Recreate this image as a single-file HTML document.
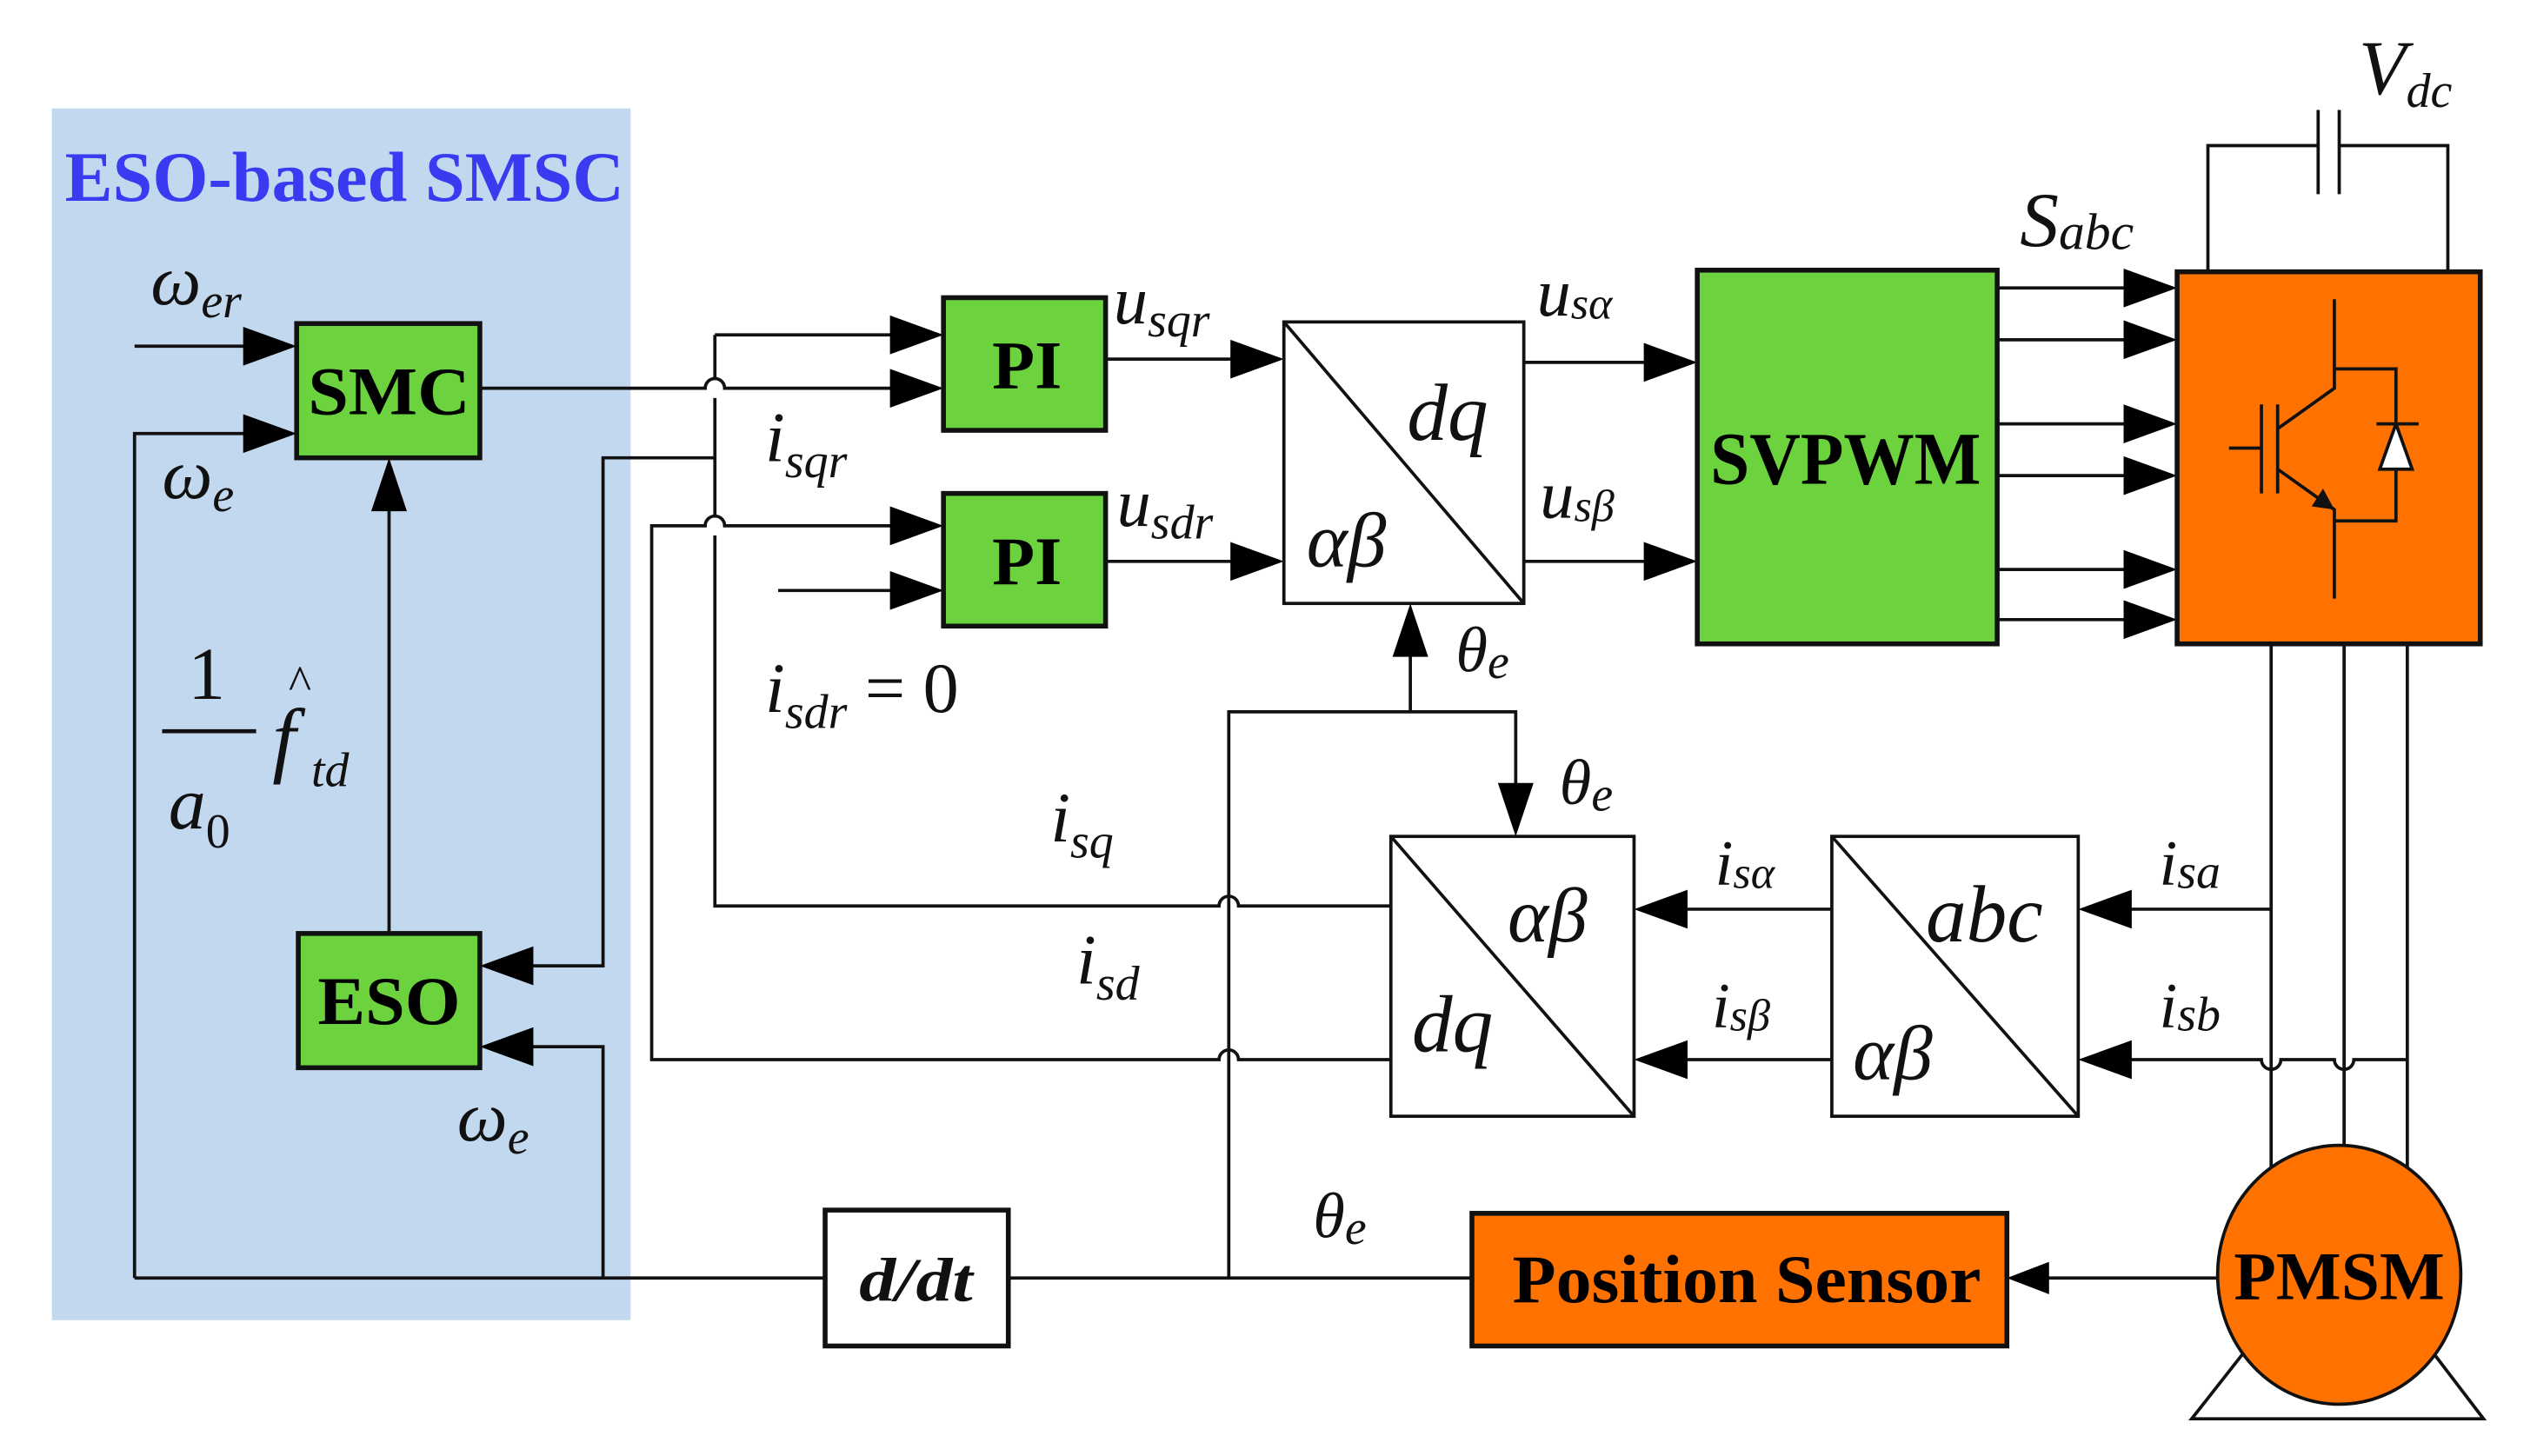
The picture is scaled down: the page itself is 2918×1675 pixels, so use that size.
<!DOCTYPE html>
<html><head><meta charset="utf-8"><style>
html,body{margin:0;padding:0;background:#fff;}
svg{display:block;}
.m{font-family:"Liberation Serif",serif;font-style:italic;fill:#111;}
.b{font-family:"Liberation Serif",serif;font-weight:bold;fill:#000;}
</style></head><body>
<svg width="2918" height="1675" viewBox="0 0 1565 900" preserveAspectRatio="none" xmlns="http://www.w3.org/2000/svg">
<rect x="32" y="67" width="357" height="749" fill="#c2d8ef"/>
<text x="40" y="124" class="b" font-size="44" style="fill:#3a3af0" textLength="345" lengthAdjust="spacingAndGlyphs">ESO-based SMSC</text>

<g stroke="#111" stroke-width="2" fill="none">
<line x1="83" y1="214" x2="160" y2="214"/>
<polyline points="83,790 83,268 160,268"/>
<line x1="240" y1="577" x2="240" y2="310"/>
<path d="M296,240 H435 a6,6 0 0 1 12,0 H556"/>
<path d="M441,207 V234 M441,246 V319 M441,331 V560 H752 a6,6 0 0 1 12,0 H858"/>
<line x1="441" y1="207" x2="556" y2="207"/>
<polyline points="441,283 372,283 372,597 323,597"/>
<path d="M556,325 H447 a6,6 0 0 0 -12,0 H402 V655 H752 a6,6 0 0 1 12,0 H858"/>
<line x1="480" y1="365" x2="556" y2="365"/>
<polyline points="372,790 372,647 323,647"/>
<line x1="83" y1="790" x2="509" y2="790"/>
<line x1="622" y1="790" x2="908" y2="790"/>
<line x1="1368" y1="790" x2="1262" y2="790"/>
<polyline points="758,790 758,440 935,440 935,490"/>
<line x1="870" y1="440" x2="870" y2="400"/>
<line x1="682" y1="222" x2="766" y2="222"/>
<line x1="682" y1="347" x2="766" y2="347"/>
<line x1="940" y1="224" x2="1020" y2="224"/>
<line x1="940" y1="347" x2="1020" y2="347"/>
<line x1="1232" y1="178" x2="1318" y2="178"/>
<line x1="1232" y1="210" x2="1318" y2="210"/>
<line x1="1232" y1="262" x2="1318" y2="262"/>
<line x1="1232" y1="294" x2="1318" y2="294"/>
<line x1="1232" y1="352" x2="1318" y2="352"/>
<line x1="1232" y1="383" x2="1318" y2="383"/>
<polyline points="1362,168 1362,90 1430,90"/>
<polyline points="1443,90 1510,90 1510,168"/>
<line x1="1430" y1="68" x2="1430" y2="120"/>
<line x1="1443" y1="68" x2="1443" y2="120"/>
<line x1="1401" y1="398" x2="1401" y2="730"/>
<line x1="1446" y1="398" x2="1446" y2="713"/>
<line x1="1485" y1="398" x2="1485" y2="730"/>
<line x1="1401" y1="562" x2="1308" y2="562"/>
<path d="M1485,655 H1452 a6,6 0 0 1 -12,0 H1407 a6,6 0 0 1 -12,0 H1308"/>
<line x1="1130" y1="562" x2="1034" y2="562"/>
<line x1="1130" y1="655" x2="1034" y2="655"/>
</g>
<g fill="#000">
<polygon points="183,214 150,202 150,226"/>
<polygon points="183,268 150,256 150,280"/>
<polygon points="240,283 229,316 251,316"/>
<polygon points="582,207 549,195 549,219"/>
<polygon points="582,240 549,228 549,252"/>
<polygon points="582,325 549,313 549,337"/>
<polygon points="582,365 549,353 549,377"/>
<polygon points="296,597 329,585 329,609"/>
<polygon points="296,647 329,635 329,659"/>
<polygon points="792,222 759,210 759,234"/>
<polygon points="792,347 759,335 759,359"/>
<polygon points="1047,224 1014,212 1014,236"/>
<polygon points="1047,347 1014,335 1014,359"/>
<polygon points="870,373 859,406 881,406"/>
<polygon points="935,517 924,484 946,484"/>
<polygon points="1343,178 1310,166 1310,190"/>
<polygon points="1343,210 1310,198 1310,222"/>
<polygon points="1343,262 1310,250 1310,274"/>
<polygon points="1343,294 1310,282 1310,306"/>
<polygon points="1343,352 1310,340 1310,364"/>
<polygon points="1343,383 1310,371 1310,395"/>
<polygon points="1282,562 1315,550 1315,574"/>
<polygon points="1282,655 1315,643 1315,667"/>
<polygon points="1008,562 1041,550 1041,574"/>
<polygon points="1008,655 1041,643 1041,667"/>
<polygon points="1238,790 1264,780 1264,800"/>
</g>

<g stroke="#111" stroke-width="3">
<rect x="183" y="200" width="113" height="83" fill="#6cd33f"/>
<rect x="184" y="577" width="112" height="83" fill="#6cd33f"/>
<rect x="582" y="184" width="100" height="82" fill="#6cd33f"/>
<rect x="582" y="305" width="100" height="82" fill="#6cd33f"/>
<rect x="1047" y="167" width="185" height="231" fill="#6cd33f"/>
<rect x="1343" y="168" width="187" height="230" fill="#ff7200"/>
<rect x="509" y="748" width="113" height="84" fill="#fff"/>
<rect x="908" y="750" width="330" height="82" fill="#ff7200"/>
</g>
<g stroke="#111" stroke-width="2" fill="#fff">
<rect x="792" y="199" width="148" height="174"/>
<line x1="792" y1="199" x2="940" y2="373"/>
<rect x="858" y="517" width="150" height="173"/>
<line x1="858" y1="517" x2="1008" y2="690"/>
<rect x="1130" y="517" width="152" height="173"/>
<line x1="1130" y1="517" x2="1282" y2="690"/>
<polygon points="1385,835 1500,835 1532,877 1352,877"/>
</g>
<ellipse cx="1443" cy="788" rx="75" ry="80" fill="#ff7200" stroke="#111" stroke-width="2"/>

<g stroke="#111" stroke-width="2" fill="none">
<line x1="1375" y1="277" x2="1395" y2="277"/>
<line x1="1395" y1="250" x2="1395" y2="305"/>
<line x1="1405" y1="250" x2="1405" y2="305"/>
<polyline points="1405,265 1440,240 1440,185"/>
<polyline points="1405,290 1440,315 1440,370"/>
<polyline points="1440,228 1478,228 1478,322 1440,322"/>
<line x1="1466" y1="262" x2="1492" y2="262"/>
</g>
<polygon points="1440,315 1426,313 1433,302" fill="#111"/>
<polygon points="1478,262 1468,290 1488,290" fill="#fff" stroke="#111" stroke-width="2"/>

<text x="190" y="256" class="b" font-size="42" textLength="100" lengthAdjust="spacingAndGlyphs">SMC</text>
<text x="196" y="633" class="b" font-size="42" textLength="88" lengthAdjust="spacingAndGlyphs">ESO</text>
<text x="612" y="240" class="b" font-size="42" textLength="43" lengthAdjust="spacingAndGlyphs">PI</text>
<text x="612" y="361" class="b" font-size="42" textLength="43" lengthAdjust="spacingAndGlyphs">PI</text>
<text x="1055" y="299" class="b" font-size="46" textLength="167" lengthAdjust="spacingAndGlyphs">SVPWM</text>
<text x="933" y="805" class="b" font-size="42" textLength="289" lengthAdjust="spacingAndGlyphs">Position Sensor</text>
<text x="1378" y="803" class="b" font-size="42" textLength="130" lengthAdjust="spacingAndGlyphs">PMSM</text>
<text x="530" y="804" class="m" font-size="38" font-weight="bold" textLength="70" lengthAdjust="spacingAndGlyphs">d/dt</text>

<g class="m">
<text x="93" y="188" font-size="44">ω<tspan font-size="30" dy="8">er</tspan></text>
<text x="100" y="308" font-size="44">ω<tspan font-size="30" dy="8">e</tspan></text>
<text x="116" y="432" font-size="46" style="font-style:normal">1</text>
<line x1="100" y1="452" x2="158" y2="452" stroke="#111" stroke-width="2.5"/>
<text x="104" y="512" font-size="46">a<tspan font-size="30" dy="12" style="font-style:normal">0</tspan></text>
<text x="168" y="474" font-size="52">f</text>
<text x="178" y="432" font-size="30" style="font-style:normal">^</text>
<text x="192" y="486" font-size="30">td</text>
<text x="282" y="705" font-size="44">ω<tspan font-size="30" dy="8">e</tspan></text>
<text x="687" y="200" font-size="42">u<tspan font-size="30" dy="8">sqr</tspan></text>
<text x="689" y="325" font-size="42">u<tspan font-size="30" dy="8">sdr</tspan></text>
<text x="472" y="285" font-size="44">i<tspan font-size="30" dy="10">sqr</tspan></text>
<text x="472" y="440" font-size="44">i<tspan font-size="30" dy="10">sdr</tspan><tspan dy="-10" style="font-style:normal"> = 0</tspan></text>
<text x="868" y="272" font-size="50">dq</text>
<text x="806" y="350" font-size="48">αβ</text>
<text x="948" y="195" font-size="42">u<tspan font-size="28" dy="2">sα</tspan></text>
<text x="950" y="320" font-size="42">u<tspan font-size="28" dy="2">sβ</tspan></text>
<text x="1246" y="152" font-size="48">S<tspan font-size="32" dy="2">abc</tspan></text>
<text x="1455" y="58" font-size="48">V<tspan font-size="30" dy="8">dc</tspan></text>
<text x="898" y="415" font-size="40">θ<tspan font-size="30" dy="4">e</tspan></text>
<text x="962" y="497" font-size="40">θ<tspan font-size="30" dy="4">e</tspan></text>
<text x="810" y="765" font-size="40">θ<tspan font-size="30" dy="4">e</tspan></text>
<text x="648" y="520" font-size="44">i<tspan font-size="30" dy="10">sq</tspan></text>
<text x="664" y="608" font-size="44">i<tspan font-size="30" dy="10">sd</tspan></text>
<text x="930" y="582" font-size="48">αβ</text>
<text x="871" y="650" font-size="50">dq</text>
<text x="1188" y="582" font-size="50">abc</text>
<text x="1143" y="667" font-size="48">αβ</text>
<text x="1058" y="547" font-size="40">i<tspan font-size="28" dy="2">sα</tspan></text>
<text x="1056" y="635" font-size="40">i<tspan font-size="28" dy="2">sβ</tspan></text>
<text x="1332" y="547" font-size="40">i<tspan font-size="30" dy="2">sa</tspan></text>
<text x="1332" y="635" font-size="40">i<tspan font-size="30" dy="2">sb</tspan></text>
</g>
</svg>
</body></html>
